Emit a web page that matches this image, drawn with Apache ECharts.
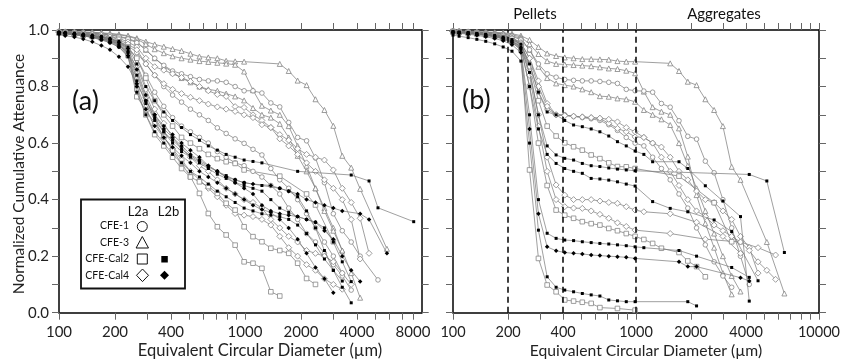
<!DOCTYPE html>
<html><head><meta charset="utf-8">
<script src="https://cdn.jsdelivr.net/npm/echarts@6/dist/echarts.min.js"></script>
<style>html,body{margin:0;padding:0;background:#fff}#c{width:843px;height:364px}</style>
</head><body><div id="c"></div>
<script>
const _ = null;
// size bins (equivalent circular diameter, µm)
const bins = [100,108,121,135,151,169,188,210,235,262,293,327,366,408,456,509,569,635,710,792,885,989,1104,1233,1377,1538,1718,1919,2143,2393,2673,2985,3334,3724,4159,4645,5188,5794,6471,7228,8072];
const tickDiam = [100,200,300,400,500,600,700,800,900,1000,2000,3000,4000,5000,6000,7000,8000,9000,10000];
const labelDiamA = [100,200,400,1000,2000,4000,8000];
const labelDiamB = [100,200,400,1000,2000,4000,10000];
const dashedB = [200,400,1000];
const regionLabels = ['Pellets','Aggregates'];
const legendRows = ['CFE-1','CFE-3','CFE-Cal2','CFE-Cal4'];
const legendCols = ['L2a','L2b'];

// ---- panel (a) ----
const a1 = [.995,.995,.994,.993,.992,.99,.988,.985,.98, .971,.959,.949,.941,.933,.926,.916,.906,.903,.900,.891,.889,.888, _,_,_, .880,.855,.821,.805,.755,.717,.661,.555,.513,.438,_,_,.226];
const a2 = [.995,.994,.993,.992,.991,.989,.986,.983,.978, .968,.95,.932,.918,.907,.9,.895,.89,.887,.884,.881,.877,.853,.787,.732,.715,.70,.66,.59,.52,.44,.37,.30,.22,.14,.053];
const a3 = [.994,.993,.992,.99,.988,.986,.983,.978,.97, .958,.93,.9,.872,.85,.83,.815,.80,.79,.785,.775,.765,.751,.724,.70,.69,.668,.62,.555,.50,.44,.36,.29,.22];
const c1 = [.995,.994,.993,.991,.989,.986,.982,.976,.968, .955,.93,.9,.875,.855,.845,.835,.825,.82,.82,.815,.80,.785,.785,.777,.742,.728,.673,.62,.608,.547,.46,.35,.29,.25,.2,_,.116];
const c2 = [.992,.99,.988,.985,.981,.976,.97,.96,.945, .92,.88,.84,.80,.77,.745,.72,.70,.68,.654,.634,.615,.599,.578,.558,.51,.47,.44,.40,.35,.30,.25,.2,.14];
const c3 = [.991,.989,.986,.983,.979,.973,.966,.955,.935, .9,.84,.78,.73,.69,.66,.64,.62,.60,.57,.55,.53,.52,.50,.48,.45,.42,.37,.33,.28,.25,.21,.17,.13,.08];
const dA1 = [.994,.993,.991,.989,.986,.982,.977,.97,.958, .94,.90,.87,.858,.845,.832,.818,.80,.785,.772,.765,.729,.726,.70,.68,.655,.63,.61,.58,.56,.55,.54,.505,.44,.39,.334,.21];
const dA2 = [.993,.992,.99,.988,.985,.981,.975,.966,.95, .93,.88,.84,.81,.79,.775,.762,.75,.738,.728,.72,.712,.70,.69,.665,.655,.615,.59,.56,.53,.50,.47,.44,.40,.33,.19];
const dA3 = [.99,.988,.985,.981,.976,.97,.962,.95,.92, .85,.76,.68,.62,.58,.54,.50,.47,.44,.41,.38,.351,.345,.34,.33,.31,.27,.23,.20,.17,.15,.12,.10,.083];
const dA4 = [.99,.987,.984,.98,.975,.968,.958,.945,.915, .87,.79,.72,.67,.62,.58,.55,.52,.50,.47,.44,.42,.40,.39,.37,.33,.30,.27,.25,.22,.21,.20,.18,.14,.10];
const sA1 = [.99,.988,.985,.982,.977,.971,.963,.95,.91, .764,.717,.67,.623,.575,.528,.481,.422,.351,.304,.275,.239,.18,.175,.157,.074,.059];
const sA2 = [.99,.988,.985,.982,.978,.972,.965,.953,.93, .79,.70,.63,.59,.55,.51,.48,.463,.446,.422,.387,.363,.304,.269,.251,.228,.22,.21,.175,.121,.10];
const sA3 = [.992,.99,.988,.985,.981,.976,.969,.958,.94, .9,.83,.75,.70,.66,.62,.60,.58,.56,.545,.534,.528,.505,_,_,_,.483,_,_,.42,.381,_,.251];
const fA1 = [.993,.991,.989,.986,.982,.977,.97,.96,.94, .88,.80,.75,.71,.68,.655,.63,.61,.59,.575,.56,.55,.54,.535,.53,_,_,_,.50,_,_,_,_,_,.487,_,.466,.371,_,_,_,.322];
const fA2 = [.992,.99,.987,.984,.98,.975,.968,.957,.935, .86,.77,.70,.65,.62,.59,.56,.54,.52,.50,.48,.47,.46,.455,_,.45,.44,.43,.42,.40,.39,.38,.37,.36,_,.35,.33,_,.21];
const fA3 = [.991,.989,.986,.982,.977,.971,.963,.95,.925, .82,.74,.68,.64,.60,.57,.55,.53,.51,.49,.475,.46,.45,.44,.43,.40,.37,.355,.34,.33,.32,.30,.25,.18,.11];
const fA4 = [.99,.987,.984,.98,.974,.966,.956,.94,.91, .80,.72,.66,.62,.585,.555,.53,.50,.48,.46,.44,.42,.40,.38,.365,.355,.33,.30,.26,.21,.16,.12,.071];
const fA5 = [.99,.988,.985,.981,.976,.969,.96,.946,.92, .84,.75,.69,.64,.61,.58,.555,.535,.515,.50,.485,.47,.46,_,.45,_,.44,.43,.41,.36,.30,.22,.15,.09,.035];
const fA6 = [.985,.98,.975,.968,.958,.945,.93,.905,.87, .81,.75,.70,.66,.63,.60,.575,.55,.52,.50,.48,.46,.44,.42,.38,.36,.35,.345,.34,.33,.32,.29,.26,.20,.15,.11];
const fA7 = [.989,.986,.983,.979,.973,.965,.955,.94,.905, .78,.70,.64,.60,.56,.53,.50,.48,.455,.43,.41,.39,.37,.36,.35,.345,.34,.33,.31,.28,.24,.19,.15,.112];

// ---- panel (b) ----
const b1 = [.997,.996,.995,.994,.993,.992,.99,.987,.98, .965,.94,.917,.908,.903,.9,.897,.897,.896,.895,.89,.888,.888, _,_,_, .882,.855,.817,.805,.755,.717,.66,.516,.47,_,_,.25,_,.068];
const b2 = [.996,.995,.994,.993,.992,.99,.988,.984,.975, .95,.915,.89,.88,.878,.876,.874,.872,.868,.864,.862,.856,.847,.782,.727,.711,.70,.652,.552,.416,.316,.23,.14,.065];
const b3 = [.996,.995,.994,.993,.991,.989,.986,.98,.97, .93,.87,.83,.811,.805,.80,.79,.78,.766,.764,.758,.755,.746,.717,.70,.684,.664,.60,.52,.44,.36,.28,.2,.13,.075];
const bC1 = [.996,.995,.994,.992,.99,.988,.985,.978,.965, .93,.88,.845,.833,.825,.822,.82,.82,.818,.815,.811,.79,.785,.784,.78,.74,.727,.679,.624,.614,.536,.495,.40,.30,.2,.1];
const bC2 = [.995,.994,.992,.99,.987,.984,.979,.97,.95, .88,.78,.72,.70,.70,.694,.69,.686,.68,.665,.645,.62,.60,.59,.55,.51,.47,.42,.37,.30,.24,.18,.13,.09];
const bD1 = [.995,.994,.992,.99,.988,.985,.98,.972,.955, .9,.82,.74,.70,.698,.695,.693,.69,.687,.67,.652,.64,.622,.62,.60,.586,.55,.50,.47,.43,.40,.39,.36,.33,.27,.23,.14];
const bD2 = [.994,.993,.991,.988,.985,.981,.975,.965,.945, .86,.70,.55,.452,.416,.40,.40,.40,.395,.39,.387,.375,.363,.357,_,_,.35,_,_,.32,_,_,.27,_,.21];
const bD3 = [.994,.992,.99,.987,.984,.98,.973,.962,.94, .84,.66,.50,.40,.375,.37,.369,.36,.348,.334,.318,.305,.292,_,_,_,.28,_,_,_,.26,_,_,_,.25,_,.23,_,.204];
const bD4 = [.995,.994,.993,.991,.988,.985,.98,.972,.955, .9,.8,.73,.70,.697,.695,.692,.69,.688,.684,.675,.655,.64,.62,.60,.55,.50,.45,.40,.36,.34,.31,.29,.27,.25,.22,.18,.15,.118];
const bS1 = [.995,.994,.992,.99,.987,.983,.977,.968,.95, .87,.75,.66,.625,.601,.587,.575,.558,.545,.53,.517,.516,.51,_,_,_,_,.483,_,_,_,.389,_,.251];
const bS2 = [.994,.992,.99,.987,.984,.98,.973,.962,.94, .8,.6,.45,.363,.345,.334,.322,.315,.31,.298,.29,.28,.27,.259,.245,.228,_,.213,.183,.163,.127];
const bS3 = [.993,.991,.989,.986,.982,.977,.97,.958,.93, .505,.192,.098,.074,.045,.041,.037,.033,.018,_,.015,_,.009];
const bF1 = [.994,.993,.991,.988,.985,.981,.975,.966,.95, .88,.78,.71,.70,.68,.664,.658,.65,.64,.625,.605,.59,.572,.56,.534,_,_,.534,.51,_,.449,_,.395,_,.34,.041];
const bF2 = [.994,.992,.99,.987,.983,.978,.971,.96,.94, .85,.70,.59,.558,.546,.54,.528,.52,.517,.512,.508,.505,.502,_,_,_,_,_,_,_,_,_,_,_,_,.489,_,.466,_,.213];
const bF3 = [.993,.991,.989,.986,.982,.977,.97,.958,.935, .8,.65,.56,.528,.51,.50,.493,.475,.473,.469,.463,.455,.448,_,.393,_,.369,_,.357,_,_,.328,_,.287,_,_,.113];
const bF4 = [.992,.99,.987,.984,.98,.975,.968,.955,.93, .7,.4,.281,.263,.257,.255,.251,.248,.245,.243,.24,.237,.233,.23,_,_,_,.22,_,.20,_,_,_,.16,_,.125];
const bF5 = [.99,.988,.985,.981,.976,.97,.962,.948,.92, .65,.35,.233,.219,.213,.21,.208,.204,.202,.2,.198,.196,.192,_,_,_,_,.18,.163,.163,_,_,_,_,.124,.112];
const bF6 = [.982,.978,.973,.967,.96,.951,.94,.925,.89, .6,.292,.127,.09,.08,.074,.068,.063,.059,.045,.042,.039,.039,_,_,_,_,_,.039,.024];

const panelA = [[a1,'T'],[a2,'T'],[a3,'T'],[c1,'C'],[c2,'C'],[c3,'C'],[dA1,'D'],[dA2,'D'],[dA3,'D'],[dA4,'D'],[sA1,'S'],[sA2,'S'],[sA3,'S'],[fA1,'s'],[fA2,'d'],[fA3,'s'],[fA4,'d'],[fA5,'s'],[fA6,'d'],[fA7,'s']];
const panelB = [[b1,'T'],[b2,'T'],[b3,'T'],[bC1,'C'],[bC2,'C'],[bD1,'D'],[bD2,'D'],[bD3,'D'],[bD4,'D'],[bS1,'S'],[bS2,'S'],[bS3,'S'],[bF1,'s'],[bF2,'s'],[bF3,'s'],[bF4,'s'],[bF5,'d'],[bF6,'s']];

const styles = {
  C:{symbol:'circle', size:4.6, hollow:true},
  T:{symbol:'triangle', size:5, hollow:true},
  S:{symbol:'rect', size:4.6, hollow:true},
  D:{symbol:'diamond', size:6, hollow:true},
  s:{symbol:'rect', size:3, hollow:false},
  d:{symbol:'diamond', size:4.5, hollow:false}
};
const lg = Math.log10;
function mk(vals, kind, panel){
  const st = styles[kind];
  const data = [];
  vals.forEach((v,i)=>{ if(v!=null) data.push([lg(bins[i]), v]); });
  return {type:'line', xAxisIndex: panel*2, yAxisIndex: panel*2, data,
    symbol: st.symbol, symbolSize: st.size,
    lineStyle:{color:'#777', width:0.7},
    itemStyle: st.hollow ? {color:'#fff', borderColor:'#858585', borderWidth:0.8} : {color:'#000', borderWidth:0},
    emphasis:{disabled:true}, silent:true, z: st.hollow?2:3};
}
const series = [];
panelA.forEach(p=>series.push(mk(p[0],p[1],0)));
panelB.forEach(p=>series.push(mk(p[0],p[1],1)));
series.push({type:'line', xAxisIndex:2, yAxisIndex:2, data:[[lg(100),-1]], showSymbol:false, lineStyle:{opacity:0}, silent:true, z:4,
  markLine:{silent:true, symbol:'none', animation:false, label:{show:false},
    lineStyle:{type:[6,4], color:'#000', width:1.5},
    data: dashedB.map(d=>({xAxis: lg(d)}))}});

const FONT = 'Lato';
function xAx(grid, pos, max, labels, fs){
  return {type:'value', gridIndex:grid, position:pos, min:2, max:max,
    axisLine:{show:true, onZero:false, lineStyle:{color:'#000', width:1.5}},
    axisTick:{show:true, inside:false, length:7, customValues: tickDiam.map(lg).filter(v=>v<=max+1e-9), lineStyle:{color:'#666', width:1}},
    axisLabel: labels ? {show:true, customValues: labels.map(lg), formatter: v=>String(Math.round(Math.pow(10,v))), fontSize:fs, color:'#222', fontFamily:FONT, margin:12} : {show:false},
    splitLine:{show:false}};
}
function yAx(grid, pos, labels){
  return {type:'value', gridIndex:grid, position:pos, min:0, max:1, interval:0.1,
    axisLine:{show:true, onZero:false, lineStyle:{color:'#000', width:1.5}},
    axisTick:{show:true, inside:false, length:7, lineStyle:{color:'#666', width:1}},
    axisLabel: labels ? {show:true, formatter: v=>(Math.round(v*10)%2===0 ? v.toFixed(1) : ''), fontSize:15, color:'#222', fontFamily:FONT, margin:10} : {show:false},
    splitLine:{show:false}};
}

const graphic = [
  {type:'text', x:19, y:174, rotation:Math.PI/2, style:{text:'Normalized Cumulative Attenuance', font:'15.5px Lato', fill:'#222', textAlign:'center', textVerticalAlign:'middle'}},
  {type:'text', x:260, y:351, style:{text:'Equivalent Circular Diameter (µm)', font:'16.5px Lato', fill:'#222', textAlign:'center', textVerticalAlign:'middle'}},
  {type:'text', x:646, y:351, style:{text:'Equivalent Circular Diameter (µm)', font:'15.7px Lato', fill:'#222', textAlign:'center', textVerticalAlign:'middle'}},
  {type:'text', x:72, y:101, style:{text:'(a)', font:'27px Lato', fill:'#111', textVerticalAlign:'middle'}},
  {type:'text', x:462, y:100, style:{text:'(b)', font:'27px Lato', fill:'#111', textVerticalAlign:'middle'}},
  {type:'text', x:535, y:14, style:{text:regionLabels[0], font:'15px Lato', fill:'#111', textAlign:'center', textVerticalAlign:'middle'}},
  {type:'text', x:724, y:14, style:{text:regionLabels[1], font:'15px Lato', fill:'#111', textAlign:'center', textVerticalAlign:'middle'}},
  // legend box
  {type:'rect', shape:{x:81, y:199.5, width:104, height:89}, style:{fill:'#fff', stroke:'#111', lineWidth:1.8}, z:10},
  {type:'text', x:138, y:212, z:11, style:{text:legendCols[0], font:'13px Lato', fill:'#111', textAlign:'center', textVerticalAlign:'middle'}},
  {type:'text', x:168.5, y:212, z:11, style:{text:legendCols[1], font:'13px Lato', fill:'#111', textAlign:'center', textVerticalAlign:'middle'}},
  ...legendRows.map((t,i)=>({type:'text', x:129, y:[226,242.5,259,275.5][i], z:11, style:{text:t, font:'10.5px Lato', fill:'#111', textAlign:'right', textVerticalAlign:'middle'}})),
  {type:'circle', shape:{cx:142.3, cy:226.5, r:5}, style:{fill:'#fff', stroke:'#111', lineWidth:1}, z:11},
  {type:'polygon', shape:{points:[[142.3,236.5],[148.5,248],[136.1,248]]}, style:{fill:'#fff', stroke:'#111', lineWidth:1}, z:11},
  {type:'rect', shape:{x:137.3, y:254, width:10, height:10}, style:{fill:'#fff', stroke:'#111', lineWidth:1}, z:11},
  {type:'polygon', shape:{points:[[142.5,269],[148.5,275.3],[142.5,281.6],[136.5,275.3]]}, style:{fill:'#fff', stroke:'#111', lineWidth:1}, z:11},
  {type:'rect', shape:{x:161.3, y:256, width:6.5, height:6.5}, style:{fill:'#000'}, z:11},
  {type:'polygon', shape:{points:[[164.5,270.8],[169,275.3],[164.5,279.8],[160,275.3]]}, style:{fill:'#000'}, z:11}
];

const chart = echarts.init(document.getElementById('c'), null, {renderer:'canvas'});
chart.setOption({
  animation:false,
  backgroundColor:'#fff',
  grid:[{left:59, top:30, width:362.7, height:282.7}, {left:453, top:30, width:370.3, height:282.7}],
  xAxis:[xAx(0,'bottom',3.95,labelDiamA,15), xAx(0,'top',3.95,null), xAx(1,'bottom',4,labelDiamB,14.5), xAx(1,'top',4,null)],
  yAxis:[yAx(0,'left',true), yAx(0,'right',false), yAx(1,'left',false), yAx(1,'right',false)],
  series, graphic
});
</script></body></html>
